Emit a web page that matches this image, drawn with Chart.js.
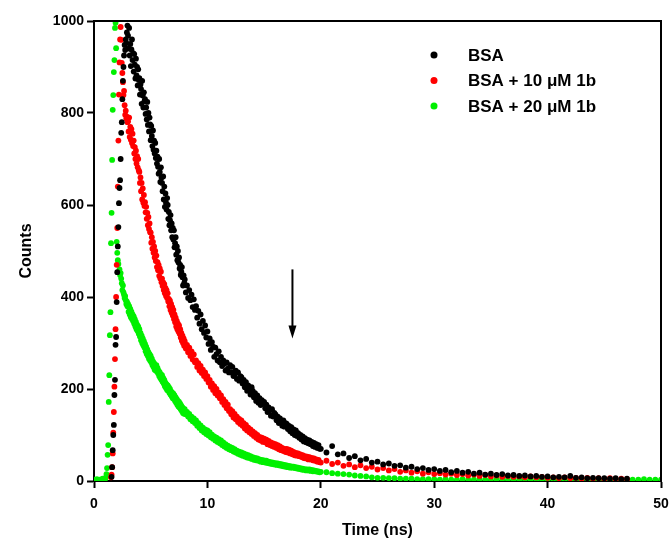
<!DOCTYPE html>
<html>
<head>
<meta charset="utf-8">
<script src="https://cdn.jsdelivr.net/npm/chart.js@4"></script>
<style>
  html, body { margin: 0; padding: 0; background: #fff; }
  #wrap { width: 672px; height: 545px; }
</style>
</head>
<body>
<div id="wrap"><canvas id="decayChart" width="672" height="545"></canvas></div>
<script>
/* =========================================
   荧光衰减曲线 — BSA / BSA + 1b
   ========================================= */

/* --- 时间通道 (ns) --- */
const times = [
    0, 0.25, 0.5, 0.75,
    1.00, 1.05, 1.10, 1.15, 1.20, 1.25, 1.30, 1.35, 1.40, 1.45, 1.50, 1.55, 1.60, 1.65, 1.70, 1.75, 1.80, 1.85, 1.90, 1.95,
    2.00, 2.05, 2.10, 2.15, 2.20, 2.25, 2.30, 2.35, 2.40, 2.45, 2.50, 2.55, 2.60, 2.65, 2.70, 2.75, 2.80, 2.85, 2.90, 2.95,
    3.00, 3.05, 3.10, 3.15, 3.20, 3.25, 3.30, 3.35, 3.40, 3.45,
    3.50, 3.55, 3.60, 3.65, 3.70, 3.75, 3.80, 3.85, 3.90, 3.95,
    4.00, 4.05, 4.10, 4.15, 4.20, 4.25, 4.30, 4.35, 4.40, 4.45,
    4.50, 4.55, 4.60, 4.65, 4.70, 4.75, 4.80, 4.85, 4.90, 4.95,
    5.00, 5.05, 5.10, 5.15, 5.20, 5.25, 5.30, 5.35, 5.40, 5.45,
    5.50, 5.55, 5.60, 5.65, 5.70, 5.75, 5.80, 5.85, 5.90, 5.95,
    6.00, 6.05, 6.10, 6.15, 6.20, 6.25, 6.30, 6.35, 6.40, 6.45,
    6.50, 6.55, 6.60, 6.65, 6.70, 6.75, 6.80, 6.85, 6.90, 6.95,
    7.00, 7.05, 7.10, 7.15, 7.20, 7.25, 7.30, 7.35, 7.40, 7.45,
    7.50, 7.55, 7.60, 7.65, 7.70, 7.75, 7.80, 7.85, 7.90, 7.95,
    8.0, 8.1, 8.2, 8.3, 8.4, 8.5, 8.6, 8.7, 8.8, 8.9,
    9.0, 9.1, 9.2, 9.3, 9.4, 9.5, 9.6, 9.7, 9.8, 9.9,
    10.0, 10.1, 10.2, 10.3, 10.4, 10.5, 10.6, 10.7, 10.8, 10.9,
    11.0, 11.1, 11.2, 11.3, 11.4, 11.5, 11.6, 11.7, 11.8, 11.9,
    12.0, 12.1, 12.2, 12.3, 12.4, 12.5, 12.6, 12.7, 12.8, 12.9,
    13.0, 13.1, 13.2, 13.3, 13.4, 13.5, 13.6, 13.7, 13.8, 13.9,
    14.0, 14.1, 14.2, 14.3, 14.4, 14.5, 14.6, 14.7, 14.8, 14.9,
    15.0, 15.1, 15.2, 15.3, 15.4, 15.5, 15.6, 15.7, 15.8, 15.9,
    16.0, 16.1, 16.2, 16.3, 16.4, 16.5, 16.6, 16.7, 16.8, 16.9,
    17.0, 17.1, 17.2, 17.3, 17.4, 17.5, 17.6, 17.7, 17.8, 17.9,
    18.0, 18.1, 18.2, 18.3, 18.4, 18.5, 18.6, 18.7, 18.8, 18.9,
    19.0, 19.1, 19.2, 19.3, 19.4, 19.5, 19.6, 19.7, 19.8, 19.9,
    20, 20.5, 21, 21.5, 22, 22.5, 23, 23.5, 24, 24.5, 25, 25.5, 26, 26.5, 27, 27.5, 28, 28.5, 29, 29.5,
    30, 30.5, 31, 31.5, 32, 32.5, 33, 33.5, 34, 34.5, 35, 35.5, 36, 36.5, 37, 37.5, 38, 38.5, 39, 39.5,
    40, 40.5, 41, 41.5, 42, 42.5, 43, 43.5, 44, 44.5, 45, 45.5, 46, 46.5, 47, 47.5, 48, 48.5, 49, 49.5,
    50
];

/* --- BSA --- */
const bsa = [
    null, null, null, null,
    null, null, null, null, null, null, null, null, null, null, null, 9, 30, 67, 100, 122, 187, 220, 296, 313,
    389, 454, 510, 552, 604, 637, 654, 700, 757, 780, 830, 870, 900, 925, 948, 937, 960, 952, 975, 990,
    968, 940, 985, 925, 950, 902, 938, 960, 915, 930,
    890, 928, 905, 875, 918, 882, 900, 860, 895, 872,
    876, 840, 862, 852, 820, 870, 838, 812, 845, 826,
    830, 798, 812, 786, 824, 774, 800, 760, 790, 775,
    741, 772, 750, 728, 762, 720, 740, 712, 735, 702,
    718, 690, 705, 683, 668, 700, 672, 650, 682, 660,
    648, 630, 662, 612, 640, 596, 625, 605, 590, 615,
    600, 570, 585, 556, 567, 578, 545, 560, 530, 550,
    525, 545, 508, 517, 530, 492, 510, 480, 500, 475,
    486, 462, 470, 448, 455, 465, 443, 425, 447, 430,
    438, 410, 425, 398, 415, 393, 405, 378, 395, 372,
    380, 355, 370, 342, 362, 330, 348, 322, 338, 312,
    325, 298, 310, 285, 302, 292, 270, 290, 276, 262,
    282, 258, 270, 250, 262, 255, 240, 258, 244, 236,
    252, 236, 248, 228, 232, 240, 222, 236, 218, 228,
    226, 212, 220, 204, 215, 196, 208, 198, 188, 204,
    196, 182, 191, 174, 186, 170, 180, 165, 176, 168,
    172, 158, 166, 150, 160, 154, 142, 156, 140, 148,
    145, 132, 140, 126, 136, 128, 120, 132, 118, 126,
    124, 113, 120, 108, 117, 104, 112, 100, 110, 98,
    104, 94, 100, 90, 97, 86, 93, 84, 90, 82,
    88, 80, 85, 76, 83, 74, 80, 72, 78, 70,
    70, 62, 76, 58, 60, 50, 54, 45, 48, 40, 42, 36, 38, 33, 34, 29, 31, 26, 28, 24,
    26, 22, 24, 19, 22, 18, 20, 16, 18, 14, 16, 13, 15, 12, 13, 11, 12, 10, 11, 9,
    10, 8, 9, 8, 11, 7, 8, 6, 7, 6, 6, 5, 6, 4, 5, null, null, null, null, null,
    null
];

/* --- BSA + 10 μM 1b --- */
const bsa10 = [
    null, null, null, null,
    null, null, null, null, null, null, null, null, null, null, 8, 14, 30, 60, 105, 150, 205, 265, 330, 400,
    470, 550, 640, 740, 840, 910, 960, 987, 959, 909, 887, 867, 839, 848, 817, 796, 805, 788, 792, 780,
    782, 760, 790, 748, 770, 742, 765, 735, 755, 728,
    740, 712, 726, 700, 718, 690, 706, 682, 700, 675,
    672, 648, 660, 630, 648, 612, 636, 605, 622, 598,
    606, 584, 596, 570, 583, 556, 574, 548, 560, 541,
    540, 518, 530, 505, 520, 496, 510, 486, 500, 478,
    490, 465, 476, 458, 470, 446, 462, 440, 455, 432,
    440, 424, 432, 415, 428, 408, 420, 402, 415, 398,
    408, 390, 396, 380, 392, 372, 385, 366, 378, 360,
    372, 352, 362, 345, 355, 336, 348, 330, 342, 325,
    338, 320, 330, 312, 322, 305, 316, 300, 310, 294,
    304, 288, 296, 280, 290, 272, 282, 264, 275, 258,
    262, 248, 256, 240, 250, 235, 242, 228, 236, 222,
    228, 214, 220, 205, 212, 198, 206, 191, 200, 186,
    192, 180, 186, 172, 178, 165, 172, 158, 166, 152,
    156, 145, 152, 138, 146, 134, 140, 128, 135, 124,
    132, 120, 126, 114, 122, 110, 116, 106, 112, 102,
    108, 98, 104, 94, 100, 90, 96, 88, 94, 85,
    92, 84, 90, 80, 87, 78, 84, 76, 82, 74,
    80, 72, 78, 69, 75, 67, 72, 65, 70, 63,
    70, 62, 68, 60, 66, 58, 63, 56, 61, 55,
    60, 54, 58, 52, 56, 50, 54, 49, 53, 47,
    52, 47, 50, 45, 49, 44, 47, 42, 46, 41,
    40, 44, 37, 40, 33, 36, 30, 34, 28, 31, 25, 28, 23, 26, 20, 23, 18, 21, 16, 19,
    15, 17, 14, 16, 13, 15, 12, 14, 11, 13, 10, 12, 9, 11, 9, 10, 8, 10, 8, 9,
    7, 8, 6, 8, 6, 7, 5, 7, 5, 6, 4, 6, 4, 5, 4, null, null, null, null, null,
    null
];

/* --- BSA + 20 μM 1b --- */
const bsa20 = [
    3, 4, 3, 5,
    5, 8, 15, 28, 57, 78, 172, 230, 317, 367, 517, 583, 698, 807, 839, 889, 915, 985, 996, 941,
    520, 496, 480, 472, 454, 460, 448, 452, 440, 430, 415, 425, 410, 405, 398, 402, 393, 385, 390, 380,
    385, 368, 380, 362, 374, 356, 368, 352, 362, 348,
    358, 342, 352, 336, 346, 330, 340, 326, 336, 320,
    330, 314, 322, 306, 316, 300, 310, 295, 304, 290,
    298, 282, 292, 276, 286, 272, 280, 266, 276, 262,
    272, 258, 266, 252, 260, 248, 256, 242, 252, 240,
    252, 238, 246, 234, 240, 228, 236, 224, 232, 220,
    230, 216, 224, 212, 220, 206, 214, 202, 210, 198,
    208, 196, 204, 192, 200, 188, 195, 184, 192, 180,
    190, 178, 186, 174, 182, 170, 178, 166, 174, 162,
    172, 160, 168, 156, 164, 152, 160, 148, 157, 146,
    156, 145, 150, 140, 146, 134, 140, 130, 136, 126,
    132, 120, 126, 115, 121, 110, 116, 106, 112, 102,
    110, 99, 106, 95, 101, 92, 97, 88, 94, 85,
    91, 82, 88, 78, 84, 75, 80, 72, 77, 69,
    74, 67, 72, 64, 69, 62, 66, 59, 64, 57,
    62, 55, 60, 53, 58, 51, 56, 50, 54, 48,
    52, 46, 50, 45, 49, 44, 47, 42, 46, 41,
    45, 40, 44, 39, 42, 38, 41, 37, 40, 36,
    39, 35, 38, 34, 37, 33, 36, 32, 35, 31,
    34, 30, 33, 29, 32, 29, 31, 28, 30, 27,
    29, 26, 28, 25, 27, 24, 26, 23, 25, 23,
    25, 22, 24, 21, 23, 21, 22, 20, 21, 19,
    20, 19, 17, 16, 15, 14, 12, 11, 10, 8, 7, 7, 6, 6, 5, 5, 5, 4, 4, 4,
    4, 3, 4, 3, 3, 4, 3, 3, 4, 3, 3, 3, 4, 3, 3, 3, 4, 3, 3, 3,
    3, 4, 3, 3, 3, 3, 4, 3, 3, 3, 3, 3, 4, 3, 3, 3, 3, 4, 3, 3,
    3
];

const seriesNames = ["BSA", "BSA + 10 \u03BCM 1b", "BSA + 20 \u03BCM 1b"];
const seriesColors = ["#000000", "#ff0000", "#00f000"];

/* --- 箭头 (ns, counts) --- */
const arrowX = 17.5;
const arrowFrom = 460;
const arrowTo = 310;

const FONT = "'Liberation Sans', Arial, Helvetica, sans-serif";

/* --- 组合成点 --- */
function toPoints(vals) {
    const pts = [];
    for (let i = 0; i < times.length; i++) {
        if (vals[i] === null || vals[i] === undefined) continue;
        pts.push({ x: times[i], y: vals[i] });
    }
    return pts;
}

/* --- 边框 + 箭头 + 图例 --- */
const overlayPlugin = {
    id: "overlay",
    afterDatasetsDraw(chart) {
        const { ctx, chartArea: a, scales } = chart;
        ctx.save();

        // top / right frame
        ctx.strokeStyle = "#000";
        ctx.lineWidth = 2;
        ctx.beginPath();
        ctx.moveTo(a.left, a.top);
        ctx.lineTo(a.right, a.top);
        ctx.lineTo(a.right, a.bottom);
        ctx.stroke();

        // arrow
        const ax = scales.x.getPixelForValue(arrowX);
        const y1 = scales.y.getPixelForValue(arrowFrom);
        const y2 = scales.y.getPixelForValue(arrowTo);
        ctx.lineWidth = 2;
        ctx.beginPath();
        ctx.moveTo(ax, y1);
        ctx.lineTo(ax, y2 - 10);
        ctx.stroke();
        ctx.fillStyle = "#000";
        ctx.beginPath();
        ctx.moveTo(ax - 4, y2 - 13);
        ctx.lineTo(ax + 4, y2 - 13);
        ctx.lineTo(ax, y2);
        ctx.closePath();
        ctx.fill();

        // legend
        ctx.font = "bold 17px " + FONT;
        ctx.textBaseline = "middle";
        ctx.textAlign = "left";
        const rows = [55, 80.5, 106];
        seriesNames.forEach((name, i) => {
            ctx.fillStyle = seriesColors[i];
            ctx.beginPath();
            ctx.arc(434, rows[i], 3.5, 0, Math.PI * 2);
            ctx.fill();
            ctx.fillStyle = "#000";
            ctx.fillText(name, 468, rows[i] + 1);
        });

        ctx.restore();
    }
};

/* --- 图表 --- */
const datasets = [bsa, bsa10, bsa20].map((vals, i) => ({
    label: seriesNames[i],
    data: toPoints(vals),
    backgroundColor: seriesColors[i],
    borderColor: seriesColors[i],
    borderWidth: 0,
    pointRadius: 2.9,
    pointHoverRadius: 2.9
}));

new Chart(document.getElementById("decayChart"), {
    type: "scatter",
    data: { datasets },
    plugins: [overlayPlugin],
    options: {
        responsive: false,
        animation: false,
        devicePixelRatio: 1,
        layout: { padding: { left: 0, right: 11, top: 21, bottom: 0 } },
        plugins: { legend: { display: false }, tooltip: { enabled: false } },
        scales: {
            x: {
                type: "linear",
                min: 0, max: 50,
                afterFit: s => { s.height = 64; s.paddingLeft = 0; s.paddingRight = 0; },
                ticks: {
                    stepSize: 10, maxRotation: 0, padding: 8, color: "#000",
                    font: { family: FONT, size: 14, weight: "bold" },
                    callback: v => String(v)
                },
                grid: { drawOnChartArea: false, tickLength: 7, tickWidth: 2, tickColor: "#000" },
                border: { display: true, width: 2, color: "#000" },
                title: {
                    display: true, text: "Time (ns)", color: "#000",
                    font: { family: FONT, size: 16, weight: "bold" },
                    padding: { top: 0, bottom: 5 }
                }
            },
            y: {
                type: "linear",
                min: 0, max: 1000,
                afterFit: s => { s.width = 94; s.paddingTop = 0; s.paddingBottom = 0; },
                ticks: {
                    stepSize: 200, padding: 3, color: "#000",
                    font: { family: FONT, size: 14, weight: "bold" },
                    callback: v => String(v)
                },
                grid: { drawOnChartArea: false, tickLength: 7, tickWidth: 2, tickColor: "#000" },
                border: { display: true, width: 2, color: "#000" },
                title: {
                    display: true, text: "Counts", color: "#000",
                    font: { family: FONT, size: 16, weight: "bold" },
                    padding: { top: 17, bottom: 0 }
                }
            }
        }
    }
});
</script>
</body>
</html>
